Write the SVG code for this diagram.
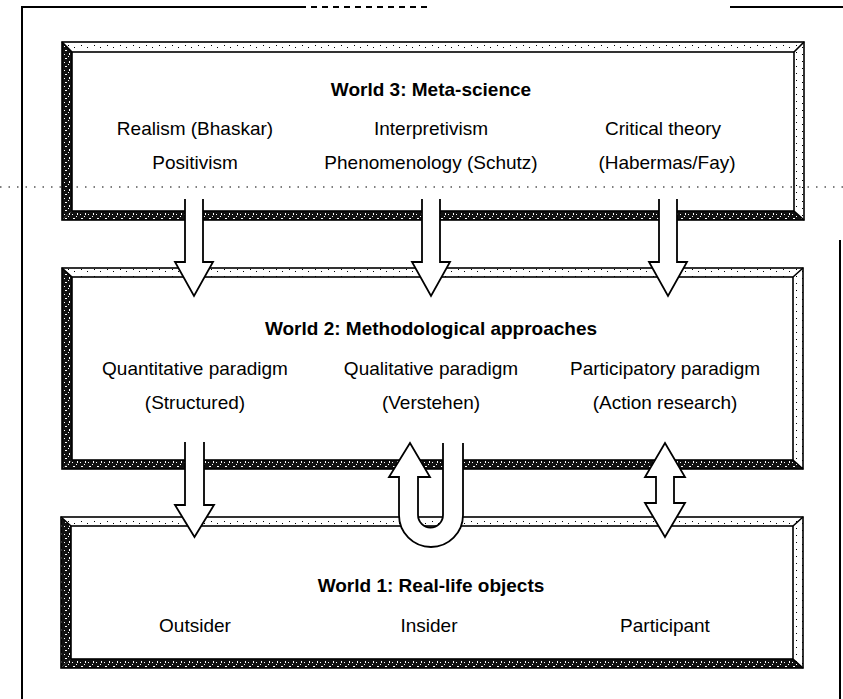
<svg xmlns="http://www.w3.org/2000/svg" width="843" height="699" viewBox="0 0 843 699">
  <style>
    .t { font-family: "Liberation Sans", Arial, sans-serif; font-size: 19px; text-anchor: middle; fill: #000; }
    .h { font-weight: bold; }
    .edge { fill: none; stroke: #000; stroke-width: 1.6; }
    .arrow { fill: #fff; stroke: #000; stroke-width: 1.8; stroke-linejoin: miter; }
    .page { stroke: #000; stroke-width: 2; fill: none; }
  </style>
  <defs>
    <!-- shaded (lower/left) bevel texture -->
    <pattern id="dark" width="8" height="8" patternUnits="userSpaceOnUse">
      <rect width="8" height="8" fill="#111"/>
      <rect x="1" y="2" width="2" height="1" fill="#fff"/>
      <rect x="5" y="5" width="1" height="2" fill="#fff"/>
      <rect x="4" y="0" width="1" height="1" fill="#fff"/>
      <rect x="0" y="6" width="1" height="1" fill="#fff"/>
    </pattern>
    <!-- lit (upper/right) bevel texture -->
    <pattern id="light" width="13" height="7" patternUnits="userSpaceOnUse">
      <rect width="13" height="7" fill="#fff"/>
      <rect x="3" y="3" width="1" height="1" fill="#000"/>
      <rect x="9" y="5" width="1" height="1" fill="#000"/>
    </pattern>
  </defs>

  <rect width="843" height="699" fill="#fff"/>

  <!-- page frame -->
  <g id="page">
    <line class="page" x1="22" y1="6" x2="22" y2="699"/>
    <line class="page" x1="22" y1="7" x2="300" y2="7"/>
    <line class="page" x1="300" y1="7" x2="430" y2="7" stroke-dasharray="6 5"/>
    <line class="page" x1="730" y1="7" x2="843" y2="7"/>
    <line class="page" x1="840" y1="240" x2="840" y2="699" stroke-width="1.5"/>
  </g>

  <!-- World 3 -->
  <g id="world3">
    <polygon points="62,42 804,42 794,52 72,52" fill="url(#light)"/>
    <polygon points="804,42 804,220 794,211 794,52" fill="url(#light)"/>
    <polygon points="62,42 72,52 72,211 62,220" fill="url(#dark)"/>
    <polygon points="62,220 72,211 794,211 804,220" fill="url(#dark)"/>
    <rect class="edge" x="62" y="42" width="742" height="178"/>
    <rect class="edge" x="72" y="52" width="722" height="159"/>
    <path class="edge" d="M62 42 L72 52 M804 42 L794 52 M804 220 L794 211"/>
    <text class="t h" x="431" y="96">World 3: Meta-science</text>
    <text class="t" x="195" y="135">Realism (Bhaskar)</text>
    <text class="t" x="195" y="169">Positivism</text>
    <text class="t" x="431" y="135">Interpretivism</text>
    <text class="t" x="431" y="169">Phenomenology (Schutz)</text>
    <text class="t" x="663" y="135">Critical theory</text>
    <text class="t" x="667" y="169">(Habermas/Fay)</text>
  </g>

  <!-- World 2 -->
  <g id="world2">
    <polygon points="62,268 803,268 793,277 72,277" fill="url(#light)"/>
    <polygon points="803,268 803,469 793,460 793,277" fill="url(#light)"/>
    <polygon points="62,268 72,277 72,460 62,469" fill="url(#dark)"/>
    <polygon points="62,469 72,460 793,460 803,469" fill="url(#dark)"/>
    <rect class="edge" x="62" y="268" width="741" height="201"/>
    <rect class="edge" x="72" y="277" width="721" height="183"/>
    <path class="edge" d="M62 268 L72 277 M803 268 L793 277 M803 469 L793 460"/>
    <text class="t h" x="431" y="335">World 2: Methodological approaches</text>
    <text class="t" x="195" y="375">Quantitative paradigm</text>
    <text class="t" x="195" y="409">(Structured)</text>
    <text class="t" x="431" y="375">Qualitative paradigm</text>
    <text class="t" x="431" y="409">(Verstehen)</text>
    <text class="t" x="665" y="375">Participatory paradigm</text>
    <text class="t" x="665" y="409">(Action research)</text>
  </g>

  <!-- World 1 -->
  <g id="world1">
    <polygon points="61,517 803,517 793,526 71,526" fill="url(#light)"/>
    <polygon points="803,517 803,668 793,659 793,526" fill="url(#light)"/>
    <polygon points="61,517 71,526 71,659 61,668" fill="url(#dark)"/>
    <polygon points="61,668 71,659 793,659 803,668" fill="url(#dark)"/>
    <rect class="edge" x="61" y="517" width="742" height="151"/>
    <rect class="edge" x="71" y="526" width="722" height="133"/>
    <path class="edge" d="M61 517 L71 526 M803 517 L793 526 M803 668 L793 659"/>
    <text class="t h" x="431" y="592">World 1: Real-life objects</text>
    <text class="t" x="195" y="632">Outsider</text>
    <text class="t" x="429" y="632">Insider</text>
    <text class="t" x="665" y="632">Participant</text>
  </g>

  <!-- connectors -->
  <g id="connectors">
    <path class="arrow" d="M185 199 V262 H175 L194 296 L213 262 H203 V199"/>
    <path class="arrow" d="M422 199 V262 H412 L431 296 L450 262 H440 V199"/>
    <path class="arrow" d="M659 199 V262 H649 L668 296 L687 262 H677 V199"/>
    <path class="arrow" d="M185 442 V505 H175 L194.5 537 L214 505 H204 V442"/>
    <path class="arrow" d="M443 443 V515 A12.5 12.5 0 0 1 418 515 V477 H430 L410 443 L389 477 H399 V515 A32 32 0 0 0 463 515 V443"/>
    <path class="arrow" d="M656 477 H645 L665 443 L685 477 H674 V503 H685 L665 537 L645 503 H656 Z"/>
  </g>

  <!-- dotted rule across the sheet -->
  <line x1="0" y1="187" x2="843" y2="187" stroke="#000" stroke-width="1.2" stroke-dasharray="1.5 7"/>
</svg>
